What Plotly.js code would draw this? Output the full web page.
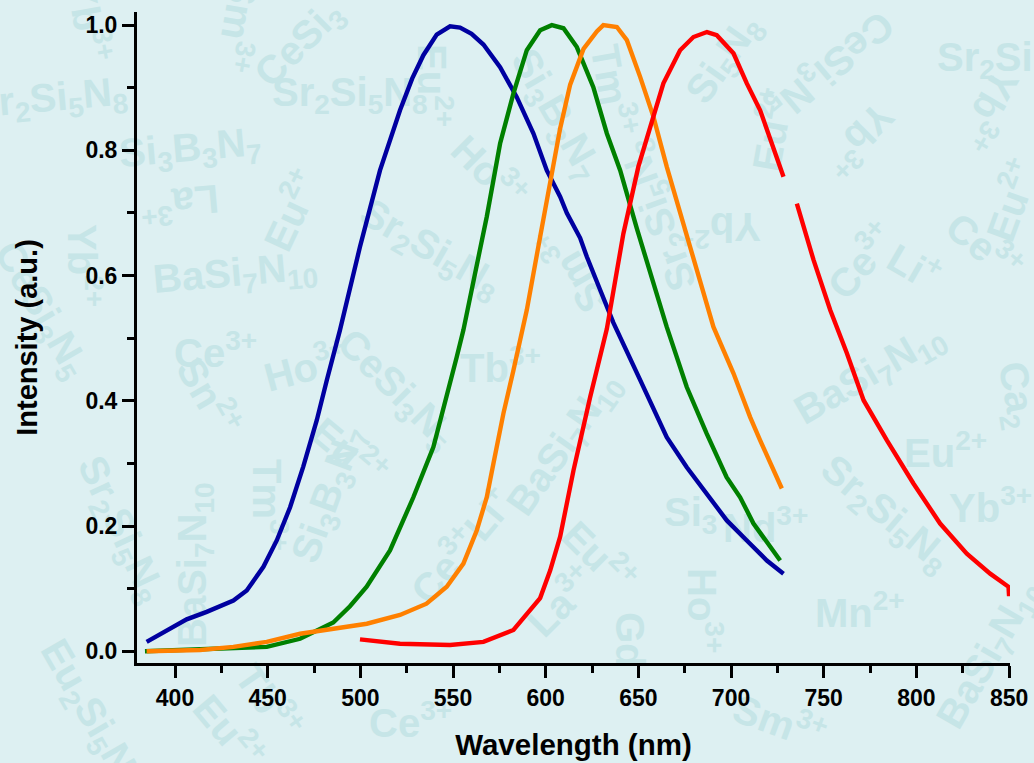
<!DOCTYPE html>
<html>
<head>
<meta charset="utf-8">
<script src="https://cdn.plot.ly/plotly-3.0.1.min.js"></script>
<style>
  html, body { margin: 0; padding: 0; background: #ddf0f2; }
  #chart { width: 1034px; height: 763px; }
</style>
</head>
<body>
<div id="chart"></div>
<script>
// ---- Data ----
const blueX = [384.7, 395.5, 406.3, 417.1, 431.5, 438.7, 447.7, 454.9, 462.1, 469.2, 476.5, 481.9, 489, 499.8, 510.6, 521.4, 528, 534, 541.2, 548.4, 553.8, 560, 566.4, 575.4, 584.4, 593.4, 600.6, 607.8, 611.4, 618.6, 622.2, 629.4, 636.5, 651, 665.3, 676.1, 687, 697.7, 708.5, 719.3, 728.3];
const blueY = [0.015, 0.032, 0.051, 0.063, 0.081, 0.097, 0.135, 0.177, 0.230, 0.295, 0.369, 0.433, 0.513, 0.646, 0.768, 0.864, 0.915, 0.952, 0.985, 0.998, 0.996, 0.986, 0.969, 0.933, 0.885, 0.827, 0.768, 0.726, 0.700, 0.660, 0.630, 0.577, 0.525, 0.433, 0.342, 0.294, 0.252, 0.209, 0.177, 0.145, 0.124];

const greenX = [383.8, 422.5, 449.5, 467.5, 478.3, 485.4, 494.4, 503.4, 516, 528.6, 539.4, 546.6, 552, 555.6, 559.2, 568.2, 575.4, 582.6, 589.8, 597, 603.3, 609.6, 616.8, 625.7, 633, 640.2, 649.2, 658.1, 665.3, 676.1, 686.8, 697.6, 704.9, 712.1, 721.1, 726.5];
const greenY = [0.0, 0.004, 0.007, 0.02, 0.035, 0.046, 0.072, 0.103, 0.161, 0.246, 0.326, 0.406, 0.470, 0.513, 0.566, 0.694, 0.811, 0.891, 0.960, 0.992, 1.0, 0.995, 0.965, 0.901, 0.827, 0.768, 0.675, 0.585, 0.518, 0.422, 0.348, 0.278, 0.246, 0.204, 0.167, 0.145];

const orangeX = [384.7, 413.5, 431.5, 449.5, 467.5, 485.4, 494.4, 503.5, 521.4, 535.7, 546.6, 555.6, 562.8, 568.2, 571.8, 577.2, 582.6, 587.1, 589.8, 597, 604.2, 607.8, 613.2, 620.4, 627.6, 631.1, 638.4, 643.8, 651, 658.1, 665.3, 672.5, 679.7, 690.5, 701.3, 710.3, 715.7, 722.9, 727.4];
const orangeY = [0.0, 0.002, 0.007, 0.015, 0.028, 0.036, 0.040, 0.044, 0.058, 0.076, 0.103, 0.140, 0.193, 0.246, 0.300, 0.380, 0.449, 0.505, 0.545, 0.662, 0.774, 0.835, 0.905, 0.962, 0.990, 1.0, 0.997, 0.976, 0.917, 0.854, 0.774, 0.700, 0.630, 0.518, 0.444, 0.374, 0.337, 0.289, 0.260];

const redX = [499.8, 521.4, 548.4, 566.4, 582.6, 593.4, 597, 602.4, 607.8, 615, 624, 633, 641.9, 650, 656.3, 663.5, 672.5, 679.7, 687, 692.3, 701.3, 708.5, 715.7, 722.9, 728.3, 731.5, 735.5, 744.5, 753.5, 762.5, 771.5, 784.1, 798.4, 812.8, 827.2, 839.8, 849.7, 850];
const redY = [0.019, 0.012, 0.010, 0.015, 0.034, 0.071, 0.085, 0.129, 0.183, 0.289, 0.406, 0.515, 0.667, 0.774, 0.838, 0.907, 0.960, 0.981, 0.989, 0.984, 0.955, 0.907, 0.864, 0.806, 0.758, null, 0.715, 0.625, 0.545, 0.476, 0.401, 0.337, 0.268, 0.204, 0.156, 0.124, 0.103, 0.088];

const xTickVals = [400, 450, 500, 550, 600, 650, 700, 750, 800, 850];
const yTickVals = [0.0, 0.2, 0.4, 0.6, 0.8, 1.0];

// ---- Decorative background formulas: [text, px, py, angle] ----
const wmText = [
  "Yb<sup>3+</sup>", "Sr<sub>2</sub>Si<sub>5</sub>N<sub>8</sub>", "Si<sub>3</sub>B<sub>3</sub>N<sub>7</sub>", "La<sup>3+</sup>",
  "Eu<sup>2+</sup>", "BaSi<sub>7</sub>N<sub>10</sub>", "Yb<sup>2+</sup>", "CeSi<sub>3</sub>N<sub>5</sub>",
  "Ce<sup>3+</sup>", "Ho<sup>3+</sup>", "CeSi<sub>3</sub>N<sub>5</sub>", "Sn<sup>2+</sup>",
  "Eu<sup>2+</sup>", "Sr<sub>2</sub>Si<sub>5</sub>N<sub>8</sub>", "BaSi<sub>7</sub>N<sub>10</sub>", "Tm<sup>3+</sup>",
  "Si<sub>3</sub>B<sub>3</sub>N<sub>7</sub>", "Ce<sup>3+</sup>Li<sup>+</sup>", "Tb<sup>3+</sup>", "Sr<sub>2</sub>Si<sub>5</sub>N<sub>8</sub>",
  "CeSi<sub>3</sub>", "Sm<sup>3+</sup>", "Eu<sup>2+</sup>", "Sr<sub>2</sub>Si<sub>5</sub>N<sub>8</sub>",
  "Si<sub>3</sub>B<sub>3</sub>N<sub>7</sub>", "Ho<sup>3+</sup>", "Tm<sup>3+</sup>", "Sm<sup>3+</sup>",
  "Sr<sub>2</sub>Si<sub>5</sub>N<sub>8</sub>", "Yb<sup>2+</sup>", "Si<sub>5</sub>N<sub>8</sub>", "Eu<sup>2+</sup>",
  "CeSi<sub>3</sub>N<sub>5</sub>", "Yb<sup>3+</sup>", "Sr<sub>2</sub>Si", "Yb<sup>3+</sup>",
  "Eu<sup>2+</sup>", "Ce<sup>3+</sup>", "Li<sup>+</sup>", "Ce<sup>3+</sup>",
  "BaSi<sub>7</sub>N<sub>10</sub>", "Ca<sub>2</sub>", "Eu<sup>2+</sup>", "Sr<sub>2</sub>Si<sub>5</sub>N<sub>8</sub>",
  "Yb<sup>3+</sup>", "Mn<sup>2+</sup>", "Nd<sup>3+</sup>", "BaSi<sub>7</sub>N<sub>10</sub>",
  "Eu<sup>2+</sup>", "Si<sub>3</sub>", "Ho<sup>3+</sup>", "Gd",
  "Ce<sup>3+</sup>", "BaSi<sub>7</sub>N<sub>10</sub>", "Eu<sub>2</sub>Si<sub>5</sub>N<sub>8</sub>", "Eu<sup>2+</sup>",
  "Tb<sup>3+</sup>", "La<sup>3+</sup>", "Sm<sup>3+</sup>"
];
const wmPx = [90, 50, 190, 180, 290, 235, 85, 40, 215, 305, 395, 210, 350, 120, 195, 270, 330, 460, 500, 350, 300, 240, 435, 430, 555, 490, 615, 570, 660, 720, 725, 770, 830, 860, 985, 990, 1010, 860, 915, 985, 870, 1015, 945, 885, 990, 860, 765, 565, 600, 690, 705, 630, 410, 990, 90, 230, 270, 560, 780];
const wmPy = [20, 100, 150, 205, 210, 275, 265, 310, 350, 365, 390, 395, 450, 530, 565, 505, 495, 545, 365, 95, 45, 25, 85, 250, 115, 170, 90, 270, 215, 230, 60, 130, 65, 140, 60, 110, 200, 260, 265, 245, 375, 395, 450, 515, 505, 610, 525, 445, 555, 515, 610, 640, 720, 655, 715, 730, 700, 600, 720];
const wmAng = [80, -5, -5, 175, -65, -5, 90, 60, 0, -15, 45, 60, 40, 65, -90, 90, -70, -50, 0, 0, -45, 100, 90, 30, 60, 45, 80, -120, -110, 180, -55, -80, 140, 135, 0, 120, -70, -50, 30, 40, -30, 80, 0, 40, 0, 0, 0, -55, 45, 0, 90, 90, 0, -60, 60, 50, 55, -45, 20];

const bg = '#ddf0f2';
const wmColor = '#c6e5e7';
const L = 137, R = 24, T = 12, B = 100, W = 1034, H = 763;
const pw = W - L - R, ph = H - T - B;
const fam = 'Liberation Sans, Arial, sans-serif';

const annotations = wmText.map((t, i) => ({
  text: t, xref: 'paper', yref: 'paper',
  x: (wmPx[i] - L) / pw, y: (H - B - wmPy[i]) / ph,
  xanchor: 'center', yanchor: 'middle', showarrow: false,
  textangle: wmAng[i],
  font: { family: fam, size: 40, weight: 'bold', color: wmColor }
}));

const lineW = 4.4;
const mk = (x, y, c) => ({ x: x, y: y, mode: 'lines', line: { color: c, width: lineW, shape: 'linear' }, connectgaps: false });
const traces = [
  mk(blueX, blueY, '#0000a0'),
  mk(greenX, greenY, '#008000'),
  mk(orangeX, orangeY, '#ff8000'),
  mk(redX, redY, '#ff0000')
];

const axFont = { family: fam, size: 23, weight: 'bold', color: '#000' };

const layout = {
  width: W, height: H,
  margin: { l: L, r: R, t: T, b: B },
  paper_bgcolor: bg,
  plot_bgcolor: 'rgba(0,0,0,0)',
  showlegend: false,
  annotations: annotations,
  xaxis: {
    range: [379.5, 850.5],
    tickvals: xTickVals,
    ticktext: xTickVals.map(v => String(v)),
    ticks: 'outside', ticklen: 12, tickwidth: 3, tickcolor: '#000',
    minor: { dtick: 25, tick0: 400, ticks: 'outside', ticklen: 7, tickwidth: 3, tickcolor: '#000', showgrid: false },
    showline: true, linewidth: 3, linecolor: '#000', mirror: false,
    showgrid: false, zeroline: false,
    tickfont: axFont,
    title: { text: 'Wavelength (nm)', standoff: 25, font: { family: fam, size: 29.5, weight: 'bold', color: '#000' } }
  },
  yaxis: {
    range: [-0.0187, 1.021],
    tickvals: yTickVals,
    ticktext: yTickVals.map(v => v.toFixed(1)),
    ticks: 'outside', ticklen: 12, tickwidth: 3, tickcolor: '#000',
    minor: { dtick: 0.1, tick0: 0, ticks: 'outside', ticklen: 7, tickwidth: 3, tickcolor: '#000', showgrid: false },
    showline: true, linewidth: 3, linecolor: '#000', mirror: false,
    showgrid: false, zeroline: false,
    tickfont: axFont,
    title: { text: 'Intensity (a.u.)', standoff: 40, font: { family: fam, size: 29, weight: 'bold', color: '#000' } }
  }
};

Plotly.newPlot('chart', traces, layout, { staticPlot: true }).then(gd => {
  // put the decorative formulas behind the curves and axes
  const below = gd.querySelector('.layer-below');
  if (below) {
    gd.querySelectorAll('.annotation').forEach(a => below.appendChild(a));
  }
});
</script>
</body>
</html>
